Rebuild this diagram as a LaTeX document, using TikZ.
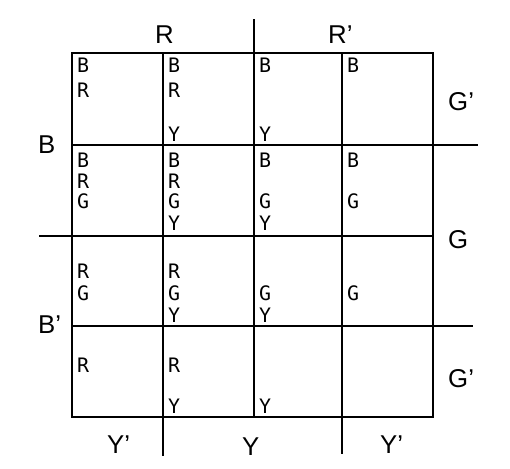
\documentclass[tikz,border=0pt]{standalone}
\usepackage{fontspec}
\setmainfont{Liberation Sans}
\newfontfamily\cellfont{DejaVu Sans Mono}

\begin{document}
\begin{tikzpicture}[x=0.03cm, y=-0.03cm,
  gridline/.style={line width=1.6pt},
  varlab/.style={anchor=base west, inner sep=0pt, font=\fontsize{22}{22}\selectfont},
  entry/.style={anchor=base west, inner sep=0pt, font=\cellfont\fontsize{17}{17}\selectfont}]
  \useasboundingbox[fill=white] (0,0) rectangle (510,468);
  % map outline and cell lines
  \draw[gridline] (72,53) rectangle (433,417);
  \draw[gridline] (163,53) -- (163,456);
  \draw[gridline] (254,19) -- (254,417);
  \draw[gridline] (342,53) -- (342,454);
  \draw[gridline] (72,145) -- (478,145);
  \draw[gridline] (39,236) -- (433,236);
  \draw[gridline] (72,326) -- (473,326);
  % variable labels
  \node[varlab] (r)  at (155,43) {R};
  \node[varlab] (rn) at (328,43) {R'};
  \node[varlab] (b)  at (38,153) {B};
  \node[varlab] (bn) at (38,333) {B'};
  \node[varlab] (gt) at (448,110) {G'};
  \node[varlab] (g)  at (448,248) {G};
  \node[varlab] (gb) at (448,387) {G'};
  \node[varlab] (yl) at (107,453) {Y'};
  \node[varlab] (y)  at (242,455) {Y};
  \node[varlab] (yr) at (380,453) {Y'};
  % cell entries
  \foreach \x/\y/\t [count=\i] in {
    77/72/B, 77/97/R, 168/72/B, 168/97/R, 168/141/Y, 259/72/B, 259/141/Y, 347/72/B,
    77/167/B, 77/188/R, 77/208/G, 168/167/B, 168/188/R, 168/208/G, 168/230/Y,
    259/167/B, 259/208/G, 259/230/Y, 347/167/B, 347/208/G,
    77/278/R, 77/300/G, 168/278/R, 168/300/G, 168/322/Y, 259/300/G, 259/322/Y, 347/300/G,
    77/372/R, 168/372/R, 168/413/Y, 259/413/Y}
    \node[entry] (e\i) at (\x,\y) {\t};
\end{tikzpicture}
\end{document}
